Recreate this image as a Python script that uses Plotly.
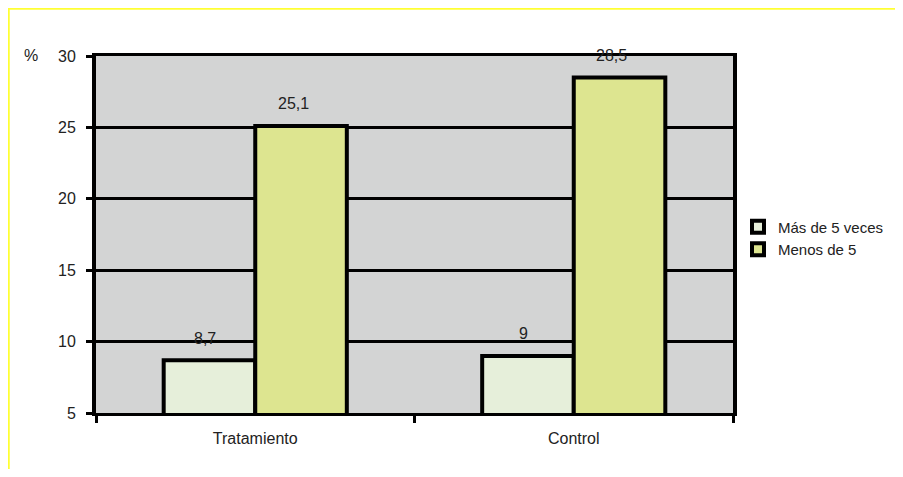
import plotly.graph_objects as go

categories = ["Tratamiento", "Control"]
mas_de_5 = [8.7, 9]
menos_de_5 = [25.1, 28.5]
series_names = ["Más de 5 veces", "Menos de 5"]
y_ticks = [5, 10, 15, 20, 25, 30]

FONT = "Arial, Liberation Sans, sans-serif"
OFF = 8  # page body margin
W, H = 903 - 2 * OFF, 477 - 2 * OFF
L, T = 96 - OFF, 56 - OFF
R = W - (733 - OFF)
B = H - (413 - OFF)
pw, ph = W - L - R, H - T - B

def fmt(v):
    return (f"{v:g}").replace(".", ",")

fig = go.Figure()
fig.add_trace(go.Bar(x=categories, y=mas_de_5, name=series_names[0],
                     marker=dict(color="#e6efda", line=dict(color="black", width=4))))
fig.add_trace(go.Bar(x=categories, y=menos_de_5, name=series_names[1],
                     marker=dict(color="#dde590", line=dict(color="black", width=4))))

annotations = []
for c, v in zip(categories, mas_de_5):
    annotations.append(dict(x=c, y=v, text=fmt(v), showarrow=False, xshift=-50, yshift=22,
                            yanchor="middle", font=dict(family=FONT, size=16, color="#222")))
for c, v in zip(categories, menos_de_5):
    annotations.append(dict(x=c, y=v, text=fmt(v), showarrow=False, xshift=38, yshift=22,
                            yanchor="middle", font=dict(family=FONT, size=16, color="#222")))
annotations.append(dict(x=(31 - OFF - L) / pw, y=1 + (56 - 55) / ph, xref="paper", yref="paper",
                        text="%", showarrow=False, xanchor="center", yanchor="middle",
                        font=dict(family=FONT, size=16, color="#222")))

yl = 1 + (T - 0.5) / ph
shapes = [
    dict(type="line", xref="paper", yref="paper", x0=(-2 - L) / pw, x1=(W + 20 - L) / pw,
         y0=yl, y1=yl, line=dict(color="#ffff33", width=2.5)),
    dict(type="line", xref="paper", yref="paper", x0=(0.5 - L) / pw, x1=(0.5 - L) / pw,
         y0=yl, y1=-(B + 20) / ph, line=dict(color="#ffff33", width=2.5)),
]

fig.update_layout(
    width=W, height=H,
    margin=dict(l=L, r=R, t=T, b=B, autoexpand=False),
    paper_bgcolor="white",
    plot_bgcolor="#d3d4d4",
    barmode="group",
    bargap=0.425,
    bargroupgap=0,
    font=dict(family=FONT, size=16, color="#222"),
    annotations=annotations,
    shapes=shapes,
    legend=dict(x=(738 - OFF - L) / pw, y=1 - (238 - OFF - T) / ph, xanchor="left", yanchor="middle",
                font=dict(family=FONT, size=15, color="#222"),
                bgcolor="rgba(0,0,0,0)", tracegroupgap=0, itemwidth=30),
    xaxis=dict(showline=True, linecolor="black", linewidth=3, mirror=True,
               ticks="outside", tickson="boundaries", ticklen=7, tickwidth=3, tickcolor="black",
               showgrid=False, ticklabelstandoff=9),
    yaxis=dict(range=[5, 30], tickvals=y_ticks, showline=True, linecolor="black", linewidth=4,
               mirror=True, ticks="outside", ticklen=6, tickwidth=3, tickcolor="black",
               showgrid=True, gridcolor="black", gridwidth=3, zeroline=False,
               ticklabelstandoff=7),
)

fig.write_html("out.html")
